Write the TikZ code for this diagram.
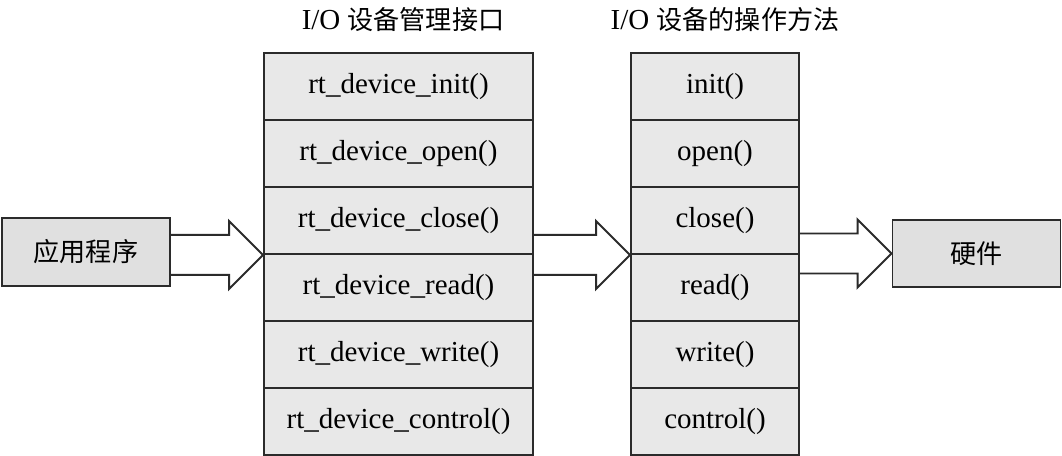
\documentclass[tikz,border=0pt]{standalone}
\usepackage{fontspec}
\setmainfont{Liberation Serif}
\newfontfamily\cjk[Scale=0.9]{Noto Sans CJK SC}
\usepackage{xcolor}
\usetikzlibrary{positioning,calc}

\definecolor{boxgray}{HTML}{E8E8E8}
\definecolor{hwgray}{HTML}{E0E0E0}
\definecolor{edgegray}{HTML}{2B2B2B}

\begin{document}
\begin{tikzpicture}
            [every node/.style={font=\fontsize{16.5}{20}\selectfont},
             cell/.style={draw=edgegray, line width=1.1pt, fill=boxgray, inner sep=0pt, minimum height=1.34cm},
             wide/.style={cell, minimum width=5.38cm},
             narrow/.style={cell, minimum width=3.36cm},
             endbox/.style={cell, fill=hwgray, minimum width=3.36cm, minimum height=1.36cm},
             bigarrow/.style={draw=edgegray, line width=1.1pt, line join=miter}]
            \useasboundingbox (0,0) rectangle (21.24,9.12);
            \node (t1) at (8.06,8.72) {I/O {\cjk 设备管理接口}};
            \node (t2) at (14.5,8.72) {I/O {\cjk 设备的操作方法}};
            \node[endbox] (app) at (1.72,4.08) {\cjk 应用程序};
            \node[wide] (m1) at (7.97,7.39) {rt\_device\_init()};
            \node[wide] (m2) at (7.97,6.05) {rt\_device\_open()};
            \node[wide] (m3) at (7.97,4.71) {rt\_device\_close()};
            \node[wide] (m4) at (7.97,3.37) {rt\_device\_read()};
            \node[wide] (m5) at (7.97,2.03) {rt\_device\_write()};
            \node[wide] (m6) at (7.97,0.69) {rt\_device\_control()};
            \node[narrow] (r1) at (14.30,7.39) {init()};
            \node[narrow] (r2) at (14.30,6.05) {open()};
            \node[narrow] (r3) at (14.30,4.71) {close()};
            \node[narrow] (r4) at (14.30,3.37) {read()};
            \node[narrow] (r5) at (14.30,2.03) {write()};
            \node[narrow] (r6) at (14.30,0.69) {control()};
            \node[endbox, minimum height=1.34cm] (hw) at (19.53,4.05) {\cjk 硬件};

            \foreach \from/\to in {app.east/m3.south west, m3.south east/r3.south west, r3.south east/hw.west}
            \draw[bigarrow] ($(\from |- \to)+(0,0.4)$) -- ($(\to)+(-0.68,0.4)$) -- ($(\to)+(-0.68,0.68)$)
                -- (\to) -- ($(\to)+(-0.68,-0.68)$) -- ($(\to)+(-0.68,-0.4)$) -- ($(\from |- \to)+(0,-0.4)$);
          \end{tikzpicture}
\end{document}
